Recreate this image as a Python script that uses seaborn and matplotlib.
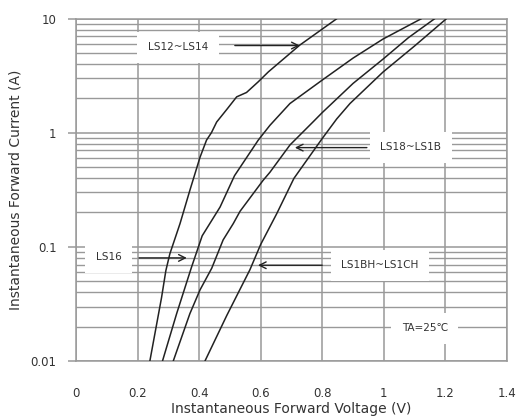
import numpy as np
import pandas as pd
import matplotlib
matplotlib.use("Agg")
import matplotlib.pyplot as plt
import seaborn as sns
from matplotlib.ticker import LogLocator, FixedLocator, NullFormatter

# forward voltage (V) / forward current (A)
v_ls12 = [0.240, 0.278, 0.292, 0.305, 0.338, 0.370, 0.403, 0.424, 0.440, 0.457, 0.490, 0.522, 0.554, 0.592, 0.625, 0.727, 0.848]
i_ls12 = [0.01, 0.036, 0.062, 0.087, 0.16, 0.313, 0.61, 0.86, 1.0, 1.24, 1.6, 2.06, 2.25, 2.79, 3.41, 5.85, 10]

v_ls16 = [0.281, 0.327, 0.375, 0.410, 0.468, 0.515, 0.592, 0.630, 0.695, 0.800, 0.900, 0.997, 1.123]
i_ls16 = [0.01, 0.026, 0.066, 0.125, 0.223, 0.42, 0.86, 1.16, 1.8, 2.89, 4.5, 6.6, 10]

v_ls18 = [0.316, 0.370, 0.403, 0.441, 0.478, 0.511, 0.533, 0.608, 0.630, 0.695, 0.771, 0.800, 0.900, 0.997, 1.080, 1.166]
i_ls18 = [0.01, 0.026, 0.042, 0.065, 0.115, 0.16, 0.205, 0.383, 0.45, 0.78, 1.25, 1.5, 2.7, 4.4, 6.8, 10]

v_ls1bh = [0.419, 0.490, 0.565, 0.600, 0.652, 0.708, 0.750, 0.800, 0.847, 0.890, 0.997, 1.100, 1.204]
i_ls1bh = [0.01, 0.0251, 0.063, 0.105, 0.195, 0.398, 0.575, 0.89, 1.32, 1.8, 3.39, 5.75, 10]

x_ticks = [0, 0.2, 0.4, 0.6, 0.8, 1.0, 1.2, 1.4]
x_labels = ["0", "0.2", "0.4", "0.6", "0.8", "1", "1.2", "1.4"]
y_ticks = [0.01, 0.1, 1, 10]
y_labels = ["0.01", "0.1", "1", "10"]

curves = [(v_ls12, i_ls12), (v_ls16, i_ls16), (v_ls18, i_ls18), (v_ls1bh, i_ls1bh)]

sns.set_theme(style="white")
plt.rcParams['font.family'] = ['DejaVu Sans']

fig = plt.figure(figsize=(5.19, 4.19), dpi=100)
ax = fig.add_axes([0.1464, 0.1384, 0.8304, 0.8174])

grid_col = '#999999'
ax.set_yscale('log')
ax.set_xlim(0, 1.4)
ax.set_ylim(0.01, 10)

ax.xaxis.set_major_locator(FixedLocator(x_ticks))
ax.set_xticklabels(x_labels)
ax.yaxis.set_major_locator(FixedLocator(y_ticks))
ax.set_yticklabels(y_labels)
ax.yaxis.set_minor_locator(LogLocator(base=10, subs=np.arange(2, 10)))
ax.yaxis.set_minor_formatter(NullFormatter())

ax.grid(True, which='major', axis='both', color=grid_col, linewidth=1.1, zorder=0)
ax.grid(True, which='minor', axis='y', color=grid_col, linewidth=1.0, zorder=0)
ax.set_axisbelow(True)
for s in ax.spines.values():
    s.set_color(grid_col)
    s.set_linewidth(1.1)

ax.tick_params(axis='x', length=0, pad=19, labelsize=8.5, colors='#333333')
ax.tick_params(axis='y', which='major', length=6, width=1.1, color=grid_col,
               pad=8, labelsize=8.5, labelcolor='#333333', left=True)
ax.tick_params(axis='y', which='minor', length=0)

for v, i in curves:
    df = pd.DataFrame({'V': v, 'I': i})
    sns.lineplot(data=df, x='V', y='I', sort=False, color='#222222',
                 linewidth=1.1, ax=ax, zorder=3)

ax.set_xlabel('Instantaneous Forward Voltage (V)', fontsize=10, color='#333333', labelpad=1)
ax.set_ylabel('Instantaneous Forward Current (A)', fontsize=10, color='#333333', labelpad=6)

box = dict(boxstyle='square,pad=1.0', facecolor='white', edgecolor='none')
arrow = dict(arrowstyle='->', color='#222222', lw=1.0, mutation_scale=12, shrinkA=0, shrinkB=0)
lab_size = 7.6

ax.text(0.331, 5.62, 'LS12~LS14', fontsize=lab_size, ha='center', va='center', bbox=box, zorder=4, color='#333333')
ax.annotate('', xy=(0.727, 5.8), xytext=(0.516, 5.8), arrowprops=arrow, zorder=5)

ax.text(1.088, 0.746, 'LS18~LS1B', fontsize=lab_size, ha='center', va='center', bbox=box, zorder=4, color='#333333')
ax.annotate('', xy=(0.711, 0.74), xytext=(0.945, 0.74), arrowprops=arrow, zorder=5)

ax.text(0.107, 0.081, 'LS16', fontsize=lab_size, ha='center', va='center', bbox=box, zorder=4, color='#333333')
ax.annotate('', xy=(0.36, 0.08), xytext=(0.205, 0.08), arrowprops=arrow, zorder=5)

ax.text(0.987, 0.0689, 'LS1BH~LS1CH', fontsize=lab_size, ha='center', va='center', bbox=box, zorder=4, color='#333333')
ax.annotate('', xy=(0.591, 0.069), xytext=(0.80, 0.069), arrowprops=arrow, zorder=5)

ax.text(1.133, 0.0193, 'TA=25\u2103', fontsize=lab_size, ha='center', va='center', bbox=box, zorder=4, color='#333333')

fig.savefig('out.png', dpi=100)
